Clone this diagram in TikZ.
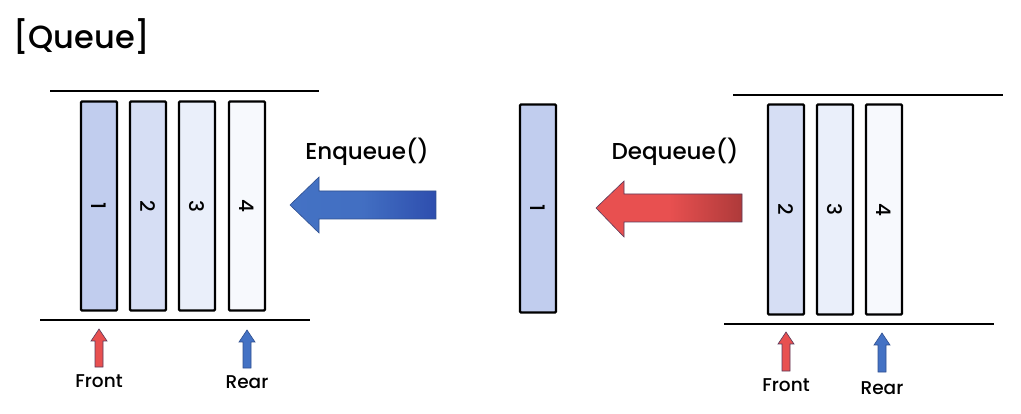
\documentclass[tikz,border=0pt]{standalone}
\usepackage{fontspec}
\setmainfont{Poppins}[UprightFont=* Medium]
\begin{document}
\begin{tikzpicture}[x=1pt,y=-1pt,
  cell/.style={draw=black,line width=2.4pt,rounded corners=1pt,minimum width=36pt,inner sep=0pt},
  num/.style={font=\fontsize{20}{20}\selectfont,rotate=-90},
  rail/.style={draw=black,line width=1.8pt},
  lbl/.style={font=\fontsize{18.5}{18.5}\selectfont,inner sep=0pt},
  op/.style={font=\fontsize{23}{23}\selectfont,inner sep=0pt},
  arrowline/.style={draw=#1,line width=0.6pt},
]
\definecolor{c1}{HTML}{C1CDEE}
\definecolor{c2}{HTML}{D6DEF4}
\definecolor{c3}{HTML}{EAEFFA}
\definecolor{c4}{HTML}{F7F9FD}
\definecolor{bl}{HTML}{4472C4}
\definecolor{bld}{HTML}{2E4EAE}
\definecolor{blb}{HTML}{2F4F8F}
\definecolor{rd}{HTML}{E85050}
\definecolor{rdd}{HTML}{AE3A3A}
\definecolor{rdb}{HTML}{5A3A5A}
\useasboundingbox (0,0) rectangle (1021,414);
\node[inner sep=0pt,anchor=west,font=\fontsize{32}{32}\selectfont] (title) at (13,37) {[Queue]};

% left group
\coordinate (lt1) at (50,91); \coordinate (lt2) at (319,91);
\coordinate (lb1) at (40,320); \coordinate (lb2) at (310,320);
\draw[rail] (lt1) -- (lt2);
\draw[rail] (lb1) -- (lb2);
\node[cell,fill=c1,minimum height=209pt] (L1) at (99,206) {};
\node[cell,fill=c2,minimum height=209pt] (L2) at (148,206) {};
\node[cell,fill=c3,minimum height=209pt] (L3) at (197,206) {};
\node[cell,fill=c4,minimum height=209pt] (L4) at (247,206) {};
\node[num] at (L1) {1};
\node[num] at (L2) {2};
\node[num] at (L3) {3};
\node[num] at (L4) {4};
\draw[arrowline=rdb,fill=rd] (95,367) -- (95,341) -- (91,341) -- (99,329) -- (107,341) -- (103,341) -- (103,367) -- cycle;
\draw[arrowline=blb,fill=bl] (243,368) -- (243,342) -- (239,342) -- (247,330) -- (255,342) -- (251,342) -- (251,368) -- cycle;
\node[lbl] (lf) at (99,381) {Front};
\node[lbl] (lr) at (247,382) {Rear};

% enqueue arrow
\node[op] (enq) at (367,152) {Enqueue()};
\path[arrowline=blb,left color=bl,right color=bld,middle color=bl!90!bld] (290,205) -- (319,177) -- (319,191) -- (436,191) -- (436,219) -- (319,219) -- (319,233) -- cycle;

% middle cell
\node[cell,fill=c1,minimum height=208pt] (M1) at (538,208.5) {};
\node[num] at (M1) {1};

% dequeue arrow
\node[op] (deq) at (675,152) {Dequeue()};
\path[arrowline=rdb,left color=rd,right color=rdd,middle color=rd] (596,208) -- (624,181) -- (624,194) -- (742,194) -- (742,222) -- (624,222) -- (624,237) -- cycle;

% right group
\coordinate (rt1) at (733,95); \coordinate (rt2) at (1003,95);
\coordinate (rb1) at (724,324); \coordinate (rb2) at (994,324);
\draw[rail] (rt1) -- (rt2);
\draw[rail] (rb1) -- (rb2);
\node[cell,fill=c2,minimum height=210pt] (R2) at (786,209.5) {};
\node[cell,fill=c3,minimum height=210pt] (R3) at (835,209.5) {};
\node[cell,fill=c4,minimum height=210pt] (R4) at (884,209.5) {};
\node[num] at (R2) {2};
\node[num] at (R3) {3};
\node[num] at (R4) {4};
\draw[arrowline=rdb,fill=rd] (782,371) -- (782,344) -- (778,344) -- (786,332) -- (794,344) -- (790,344) -- (790,371) -- cycle;
\draw[arrowline=blb,fill=bl] (878,372) -- (878,345) -- (874,345) -- (882,333) -- (890,345) -- (886,345) -- (886,372) -- cycle;
\node[lbl] (rf) at (786,385) {Front};
\node[lbl] (rr) at (882,388) {Rear};
\end{tikzpicture}
\end{document}
